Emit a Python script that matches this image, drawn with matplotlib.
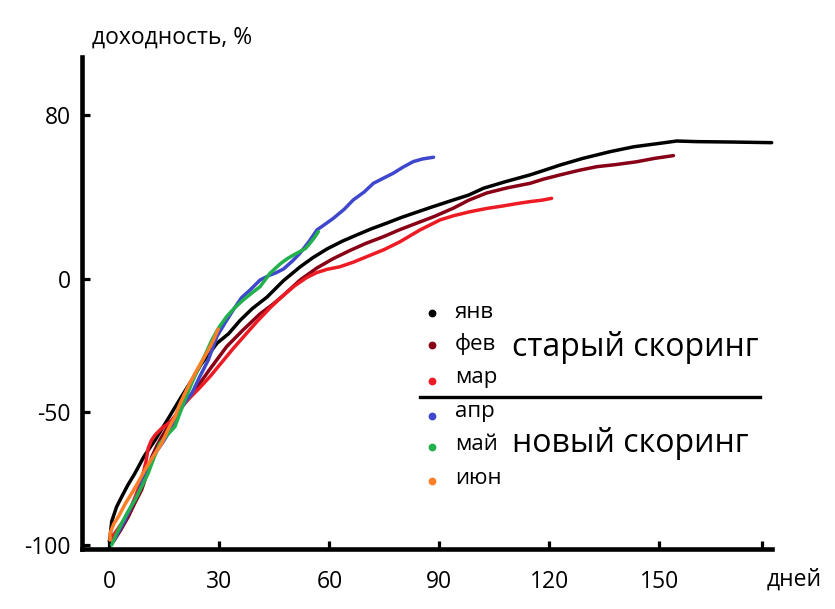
import numpy as np
import matplotlib
matplotlib.use("Agg")
import matplotlib.pyplot as plt

plt.rcParams['font.family'] = ['Open Sans', 'DejaVu Sans']

# ---- data (days, yield %) ----
jan_d = [0.0, 0.2, 0.65, 2.0, 3.4, 5.0, 7.0, 9.5, 12.5, 16.0, 19.5, 22.5, 25.0, 29.4, 32.5, 35.7, 39.0, 43.0,
         47.5, 52.0, 55.5, 59.4, 63.5, 67.5, 71.5, 75.6, 79.5, 82.9, 88.0, 93.8, 98.0, 102.0, 108.0, 114.7,
         118.5, 122.9, 129.0, 136.5, 143.0, 150.2, 154.7, 160.2, 170.0, 180.6]
jan_y = [-98.5, -97.0, -91.0, -85.5, -81.7, -77.5, -72.9, -66.5, -60.4, -52.5, -44.5, -37.9, -32.0, -24.0, -20.5,
         -15.4, -11.0, -6.7, -0.5, 6.0, 10.5, 14.8, 18.5, 21.6, 24.6, 27.3, 30.0, 32.1, 35.2, 38.6, 41.0, 44.3,
         47.5, 50.8, 53.0, 55.6, 58.8, 62.1, 64.5, 66.2, 67.3, 67.0, 66.8, 66.5]

feb_d = [1.0, 3.0, 5.2, 7.0, 8.8, 10.3, 11.6, 13.0, 14.3, 16.6, 18.5, 20.2, 22.5, 24.7, 27.0, 29.3, 32.0, 36.5,
         41.1, 44.5, 47.5, 52.0, 56.6, 61.0, 65.6, 70.0, 74.7, 79.0, 83.8, 88.5, 93.8, 98.0, 102.9, 108.5,
         114.7, 118.5, 122.9, 128.0, 132.9, 138.0, 143.8, 148.5, 153.8]
feb_y = [-98.8, -94.5, -89.2, -84.0, -79.2, -73.0, -66.7, -62.5, -59.2, -54.0, -50.5, -47.0, -43.0, -39.1, -34.6,
         -30.3, -25.3, -19.0, -13.0, -9.5, -6.0, -0.3, 5.5, 10.0, 14.0, 17.5, 20.7, 24.0, 27.3, 30.5, 34.6, 38.5,
         42.0, 44.5, 46.7, 48.8, 50.8, 53.0, 54.8, 55.8, 57.2, 58.8, 60.2]

mar_d = [0.2, 2.5, 5.2, 7.0, 8.8, 10.0, 10.6, 11.5, 12.5, 14.3, 15.8, 17.0, 18.5, 19.7, 22.0, 24.5, 27.5, 30.5,
         33.8, 37.0, 40.2, 44.0, 47.5, 50.5, 53.8, 56.5, 59.3, 62.9, 66.5, 70.2, 75.0, 79.3, 84.7, 90.2,
         94.0, 98.4, 103.0, 107.4, 111.0, 114.7, 118.0, 120.6]
mar_y = [-98.0, -93.5, -88.0, -82.0, -75.5, -68.5, -63.5, -60.5, -58.5, -56.0, -54.5, -53.0, -50.5, -48.0, -44.5,
         -41.0, -36.5, -31.5, -26.0, -21.0, -16.0, -10.5, -6.0, -2.5, 0.8, 3.2, 4.8, 6.1, 8.3, 11.0, 14.5, 18.3,
         24.0, 28.9, 31.0, 32.9, 34.5, 35.7, 36.8, 37.8, 38.5, 39.4]

apr_d = [1.5, 2.5, 4.3, 6.0, 7.9, 9.7, 11.0, 12.5, 14.5, 16.1, 18.8, 21.0, 22.5, 24.7, 27.0, 29.3, 31.5, 33.8,
         36.0, 38.4, 41.1, 43.5, 45.5, 47.5, 50.0, 52.0, 54.5, 56.6, 59.0, 61.1, 64.0, 66.5, 69.5, 72.0, 74.5,
         77.4, 80.0, 82.9, 85.5, 88.4]
apr_y = [-97.7, -95.0, -90.5, -85.5, -80.5, -72.9, -69.0, -65.4, -61.5, -57.9, -50.4, -45.5, -42.9, -36.5, -30.3,
         -21.6, -16.5, -11.5, -7.0, -4.0, -0.3, 1.8, 3.2, 5.0, 9.0, 12.7, 18.5, 24.0, 27.0, 29.7, 34.0, 38.6, 42.5,
         46.7, 49.0, 51.6, 54.5, 57.3, 58.6, 59.4]

may_d = [0.65, 2.0, 3.4, 5.0, 7.0, 8.8, 10.6, 12.2, 13.8, 15.8, 17.9, 19.2, 20.6, 22.5, 24.3, 26.1, 27.9, 29.7,
         32.0, 34.0, 36.5, 39.0, 41.1, 43.8, 46.6, 48.5, 50.2, 52.0, 53.5, 54.7, 56.0, 57.0]
may_y = [-99.9, -95.5, -91.7, -87.5, -83.0, -78.0, -72.9, -67.0, -61.7, -58.5, -55.4, -50.5, -45.4, -39.0, -33.5,
         -28.5, -23.0, -18.5, -14.0, -11.0, -7.8, -5.0, -2.8, 2.9, 7.5, 10.0, 11.8, 13.5, 15.0, 17.5, 20.5, 23.2]

jun_d = [0.2, 0.2, 1.2, 2.5, 4.3, 6.1, 8.0, 9.7, 12.0, 14.3, 16.0, 17.9, 19.2, 20.6, 22.0, 23.4, 25.2, 27.0,
         28.5, 29.7]
jun_y = [-98.0, -95.5, -92.0, -89.2, -84.5, -80.5, -76.0, -71.7, -66.5, -61.7, -56.5, -51.7, -47.0, -42.9, -39.0,
         -35.3, -31.0, -26.6, -22.5, -18.7]

months = ['янв', 'фев', 'мар', 'апр', 'май', 'июн']
colors = ['#000000', '#880015', '#ED1C24', '#3F48CC', '#22B14C', '#FF7F27']
series = [(jan_d, jan_y), (feb_d, feb_y), (mar_d, mar_y), (apr_d, apr_y), (may_d, may_y), (jun_d, jun_y)]

x_ticks = [0, 30, 60, 90, 120, 150]
y_ticks = [-100, -50, 0, 80]
group_labels = ['старый скоринг', 'новый скоринг']

# ---- figure ----
W, H = 835, 609
fig = plt.figure(figsize=(W / 100, H / 100), dpi=100)
ax = fig.add_axes([81.7 / W, 1 - 549 / H, (771.7 - 81.7) / W, (549 - 57) / H])

K = 2.054 / 2.66


def fwd(v):
    v = np.asarray(v, dtype=float)
    return np.where(v >= 0, v * K, v)


def inv(v):
    v = np.asarray(v, dtype=float)
    return np.where(v >= 0, v / K, v)


ax.set_yscale('function', functions=(fwd, inv))

for (d, y), c in zip(series, colors):
    ax.plot(d, y, color=c, lw=2.5, solid_capstyle='round', solid_joinstyle='round', clip_on=False)

ax.set_xlim(-7.53, 180.6)
ax.set_ylim(-101.4, 108.2)

for s in ['top', 'right']:
    ax.spines[s].set_visible(False)
for s in ['left', 'bottom']:
    ax.spines[s].set_linewidth(3.3)
    ax.spines[s].set_capstyle('projecting')

ax.set_xticks(x_ticks + [178])
ax.set_xticklabels([str(t) for t in x_ticks] + [''])
ax.set_yticks(y_ticks)
ax.set_yticklabels([str(t) for t in y_ticks])
ax.tick_params(axis='both', direction='in', length=6, width=2.3, labelsize=16.5)
ax.tick_params(axis='x', pad=15)
ax.tick_params(axis='y', pad=8)


def P(x, y):
    return (x / W, 1 - y / H)


fig.text(*P(92, 38), 'доходность, %', fontsize=16.5, ha='left', va='center')
fig.text(*P(767, 580), 'дней', fontsize=16.5, ha='left', va='center')

# legend (manual)
dot_y = [313, 345, 380.5, 416, 447, 481]
lab_y = [312, 344, 378, 412, 445, 478]
for m, c, dy, ly in zip(months, colors, dot_y, lab_y):
    fig.lines.append(plt.Line2D([431.7 / W], [1 - dy / H], marker='o', ms=4.6, color=c, ls='none',
                                transform=fig.transFigure))
    fig.text(*P(455, ly), m, fontsize=16, ha='left', va='center')

fig.lines.append(plt.Line2D([420 / W, 760 / W], [1 - 396.7 / H, 1 - 396.7 / H], color='black', lw=2.4,
                            transform=fig.transFigure))
fig.text(*P(512, 348), group_labels[0], fontsize=23, ha='left', va='center')
fig.text(*P(512, 443), group_labels[1], fontsize=23, ha='left', va='center')

fig.savefig('out.png', dpi=100)
